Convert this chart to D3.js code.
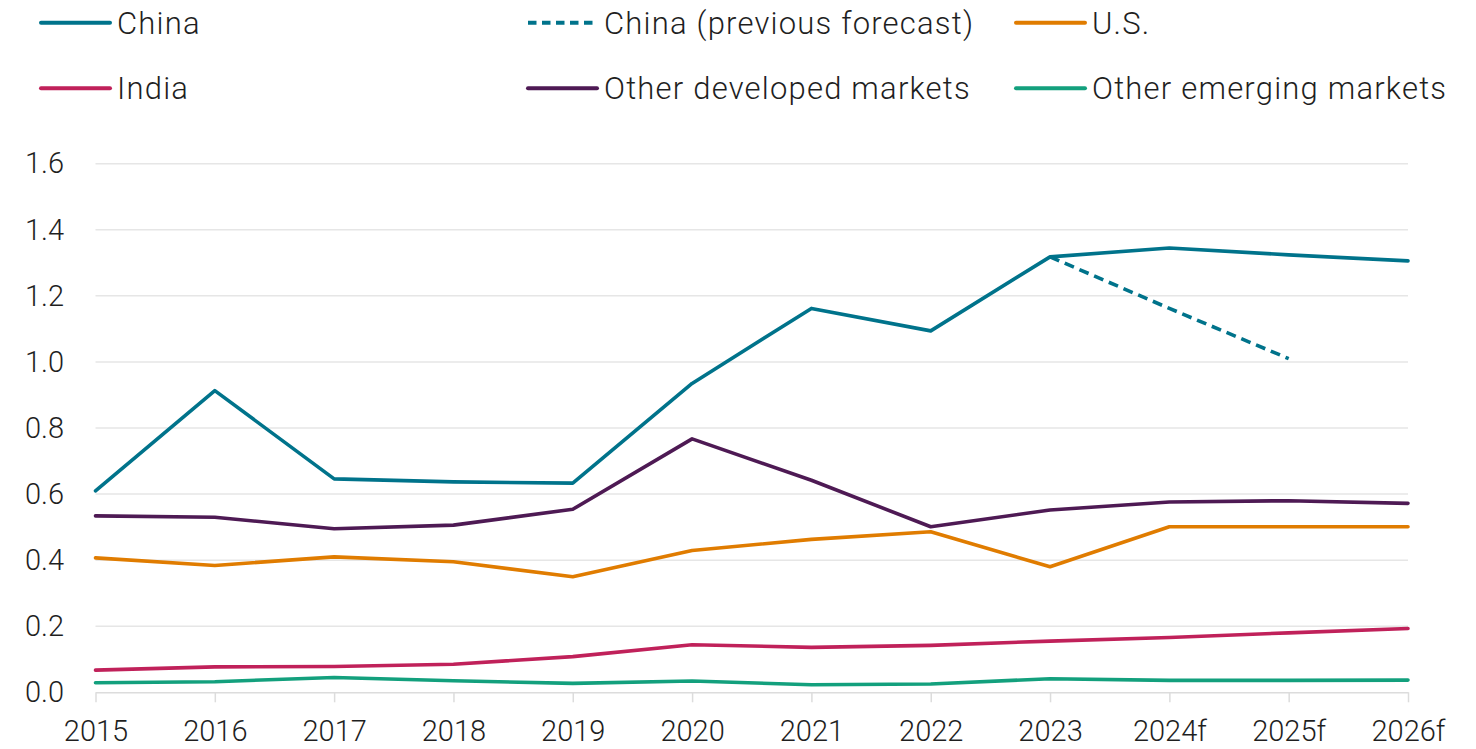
<!DOCTYPE html>
<html>
<head>
<meta charset="utf-8">
<script src="https://cdn.jsdelivr.net/npm/d3@7"></script>
<style>
  html, body { margin: 0; padding: 0; background: #fff; }
  svg { display: block; }
  text { font-family: Roboto, "Noto Sans", sans-serif; fill: #1f1f1f; }
</style>
</head>
<body>
<svg id="chart" width="1476" height="749"></svg>
<script>
const categories = ["2015","2016","2017","2018","2019","2020","2021","2022","2023","2024f","2025f","2026f"];
const china      = [0.610,0.913,0.646,0.637,0.633,0.935,1.162,1.094,1.318,1.345,1.324,1.306];
const chinaPrev  = [null,null,null,null,null,null,null,null,1.318,1.162,1.010,null];
const us         = [0.407,0.384,0.410,0.395,0.350,0.429,0.463,0.486,0.380,0.501,0.501,0.501];
const india      = [0.067,0.077,0.078,0.085,0.108,0.144,0.136,0.142,0.155,0.166,0.180,0.193];
const otherDev   = [0.534,0.530,0.495,0.506,0.554,0.767,0.642,0.501,0.552,0.576,0.580,0.572];
const otherEm    = [0.029,0.032,0.045,0.035,0.027,0.034,0.023,0.025,0.041,0.036,0.036,0.037];
const yTicks     = [0.0,0.2,0.4,0.6,0.8,1.0,1.2,1.4,1.6];

const series = [
  {name:"China", values: china, color:"#00738B", dash:null},
  {name:"China (previous forecast)", values: chinaPrev, color:"#00738B", dash:"10,6"},
  {name:"U.S.", values: us, color:"#E07C00", dash:null},
  {name:"India", values: india, color:"#C0215A", dash:null},
  {name:"Other developed markets", values: otherDev, color:"#4E1A54", dash:null},
  {name:"Other emerging markets", values: otherEm, color:"#13A07D", dash:null}
];

const svg = d3.select("#chart");
const x = d3.scalePoint().domain(categories).range([95.5, 1408]);
const y = d3.scaleLinear().domain([0, 1.6]).range([692.3, 163.7]);

// gridlines
svg.append("g").selectAll("line").data(yTicks.filter(d => d > 0)).join("line")
  .attr("x1", 95.5).attr("x2", 1408)
  .attr("y1", d => y(d)).attr("y2", d => y(d))
  .attr("stroke", "#e6e6e6").attr("stroke-width", 1.5);

// y axis labels
const yAxis = d3.axisLeft(y).tickValues(yTicks).tickFormat(d3.format(".1f")).tickSize(0).tickPadding(0);
const gy = svg.append("g").attr("transform", "translate(64,0)").call(yAxis);
gy.select(".domain").remove();
gy.selectAll("text").attr("font-size", 29).attr("font-weight", 300)
  .attr("fill", "#1f1f1f").attr("font-family", "Roboto, sans-serif");

// x axis
const xAxis = d3.axisBottom(x).tickSize(10).tickPadding(18).tickSizeOuter(0);
const gx = svg.append("g").attr("transform", `translate(0,${y(0)})`).call(xAxis);
gx.select(".domain").attr("stroke", "#dcdcdc").attr("stroke-width", 1.5);
gx.selectAll(".tick line").attr("stroke", "#dcdcdc").attr("stroke-width", 1.5);
gx.selectAll("text").attr("font-size", 29).attr("font-weight", 300)
  .attr("fill", "#1f1f1f").attr("font-family", "Roboto, sans-serif");

// lines
const line = d3.line().defined(d => d.v != null).x(d => x(d.c)).y(d => y(d.v));
const order = [5,3,2,4,0,1];
order.forEach(i => {
  const s = series[i];
  svg.append("path")
    .datum(categories.map((c, k) => ({c, v: s.values[k]})))
    .attr("d", line)
    .attr("fill", "none")
    .attr("stroke", s.color)
    .attr("stroke-width", 3.6)
    .attr("stroke-linejoin", "round")
    .attr("stroke-linecap", s.dash ? "butt" : "round")
    .attr("stroke-dasharray", s.dash);
});

// legend
const legX = [41, 528, 1016];
const legY = [22.7, 88.3];
series.forEach((s, i) => {
  const col = i % 3, row = Math.floor(i / 3);
  const g = svg.append("g").attr("transform", `translate(${legX[col]},${legY[row]})`);
  g.append("line").attr("x1", 0).attr("x2", 69).attr("y1", 0).attr("y2", 0)
    .attr("stroke", s.color).attr("stroke-width", 4)
    .attr("stroke-linecap", s.dash ? "butt" : "round")
    .attr("stroke-dasharray", s.dash ? "8.5,5.5" : null);
  g.append("text").attr("x", 76).attr("y", 11).attr("font-size", 31).attr("font-weight", 300)
    .attr("letter-spacing", 1.2)
    .text(s.name);
});
</script>
</body>
</html>
